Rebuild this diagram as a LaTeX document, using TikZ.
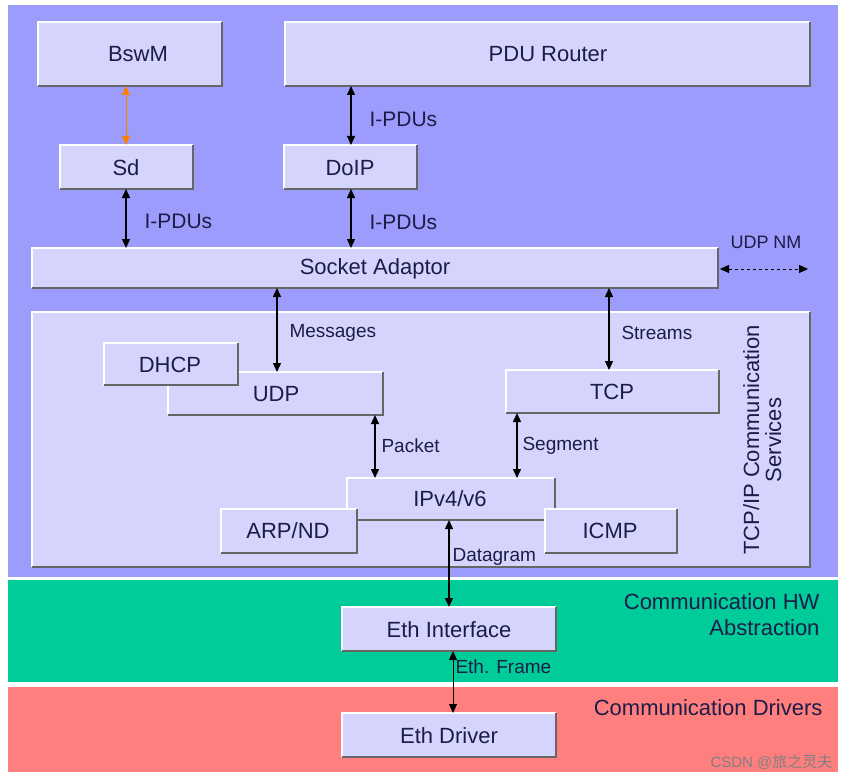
\documentclass[tikz,border=0pt]{standalone}
\usepackage{fontspec}
\setmainfont{Liberation Sans}
\newfontfamily\cjk{Noto Sans CJK SC}
\usetikzlibrary{arrows.meta}
\definecolor{bgblue}{HTML}{9C9CFC}
\definecolor{boxfill}{HTML}{D4D4FC}
\definecolor{txt}{HTML}{1C1C48}
\definecolor{grn}{HTML}{00CC99}
\definecolor{rd}{HTML}{FF7F7F}
\newcommand{\bevbox}[5]{%
 \fill[boxfill] (#1,#2) rectangle (#3,#4);
 \draw[white,line width=1.2pt] (#1,#4) -- (#1,#2) -- (#3,#2);
 \draw[gray!80!black,line width=1.2pt] (#1,#4) -- (#3,#4) -- (#3,#2);
 \node (#5) at ({(#1+#3)/2},{(#2+#4)/2}) {};}
\tikzset{lab/.style={txt,font=\fontsize{22}{26}\selectfont},
 al/.style={txt,font=\fontsize{19}{22}\selectfont,anchor=west},
 dbl/.style={{Triangle[length=9pt,width=8pt]}-{Triangle[length=9pt,width=8pt]},line width=1.3pt}}
\begin{document}
\begin{tikzpicture}[x=1pt,y=-1pt]
\useasboundingbox (0,0) rectangle (851,781);
\fill[white] (0,0) rectangle (851,781);
\fill[bgblue] (8,5) rectangle (838,577);
\fill[grn] (8,580) rectangle (838,682);
\fill[rd] (8,687) rectangle (838,772);
\bevbox{32}{312}{810}{567}{tcpip}
\bevbox{38}{22}{222}{86}{bswm}
\bevbox{285}{22}{810}{86}{pdu}
\bevbox{60}{145}{193}{189}{sd}
\bevbox{284}{145}{417}{189}{doip}
\bevbox{32}{248}{718}{288}{soad}
\bevbox{168}{372}{383}{415}{udp}
\bevbox{104}{343}{238}{385}{dhcp}
\bevbox{506}{370}{719}{413}{tcp}
\bevbox{347}{478}{555}{520}{ip}
\bevbox{221}{509}{357}{553}{arp}
\bevbox{545}{509}{677}{553}{icmp}
\bevbox{342}{607}{556}{651}{ethif}
\bevbox{342}{713}{556}{757}{ethdrv}
\node[lab] at (138,54) {BswM};
\node[lab] at (548,54) {PDU Router};
\node[lab] at (126,168) {Sd};
\node[lab] at (350,168) {DoIP};
\node[lab] at (375,269) {Socket Adaptor};
\node[lab] at (170,365) {DHCP};
\node[lab] at (276,394) {UDP};
\node[lab] at (612,392) {TCP};
\node[lab] at (450,499) {IPv4/v6};
\node[lab] at (288,531) {ARP/ND};
\node[lab] at (610,531) {ICMP};
\node[lab] at (449,630) {Eth Interface};
\node[lab] at (449,736) {Eth Driver};
\node[lab,rotate=90] at (765,440) {\begin{tabular}{c}TCP/IP Communication\\[-4pt]Services\end{tabular}};
\node[lab,anchor=east] at (823,602) {Communication HW};
\node[lab,anchor=east] at (823,628) {Abstraction};
\node[lab,anchor=east] at (826,708) {Communication Drivers};
\coordinate (c1) at (126,86); \coordinate (c2) at (126,145);
\draw[dbl,orange,line width=1pt] (c1) -- (c2);
\coordinate (p1) at (351,86); \coordinate (p2) at (351,145);
\draw[dbl] (p1) -- (p2); \node[al,font=\fontsize{21}{24}\selectfont] at (366,119) {I-PDUs};
\coordinate (s1) at (126,189); \coordinate (s2) at (126,248);
\draw[dbl] (s1) -- (s2); \node[al,font=\fontsize{21}{24}\selectfont] at (141,221) {I-PDUs};
\coordinate (d1) at (351,189); \coordinate (d2) at (351,248);
\draw[dbl] (d1) -- (d2); \node[al,font=\fontsize{21}{24}\selectfont] at (366,222) {I-PDUs};
\coordinate (n1) at (720,269); \coordinate (n2) at (808,269);
\draw[dbl,dashed,line width=1pt] (n1) -- (n2);
\node[txt,font=\fontsize{18}{21}\selectfont] at (766,242) {UDP NM};
\coordinate (m1) at (277,288); \coordinate (m2) at (277,372);
\draw[dbl] (m1) -- (m2); \node[al] at (286,333) {Messages};
\coordinate (t1) at (609,288); \coordinate (t2) at (609,370);
\draw[dbl] (t1) -- (t2); \node[al] at (618,333) {Streams};
\coordinate (k1) at (375,415); \coordinate (k2) at (375,478);
\draw[dbl] (k1) -- (k2); \node[al] at (378,446) {Packet};
\coordinate (g1) at (517,413); \coordinate (g2) at (517,478);
\draw[dbl] (g1) -- (g2); \node[al] at (519,446) {Segment};
\coordinate (q1) at (449,520); \coordinate (q2) at (449,607);
\draw[dbl] (q1) -- (q2); \node[al] at (449,557) {Datagram};
\coordinate (f1) at (453,651); \coordinate (f2) at (453,713);
\draw[dbl,line width=1pt] (f1) -- (f2); \node[al] at (452,667) {Eth. Frame};
\node[gray,font=\fontsize{15}{18}\selectfont,anchor=east] at (836,762) {CSDN @{\cjk 旅之灵夫}};
\end{tikzpicture}
\end{document}
